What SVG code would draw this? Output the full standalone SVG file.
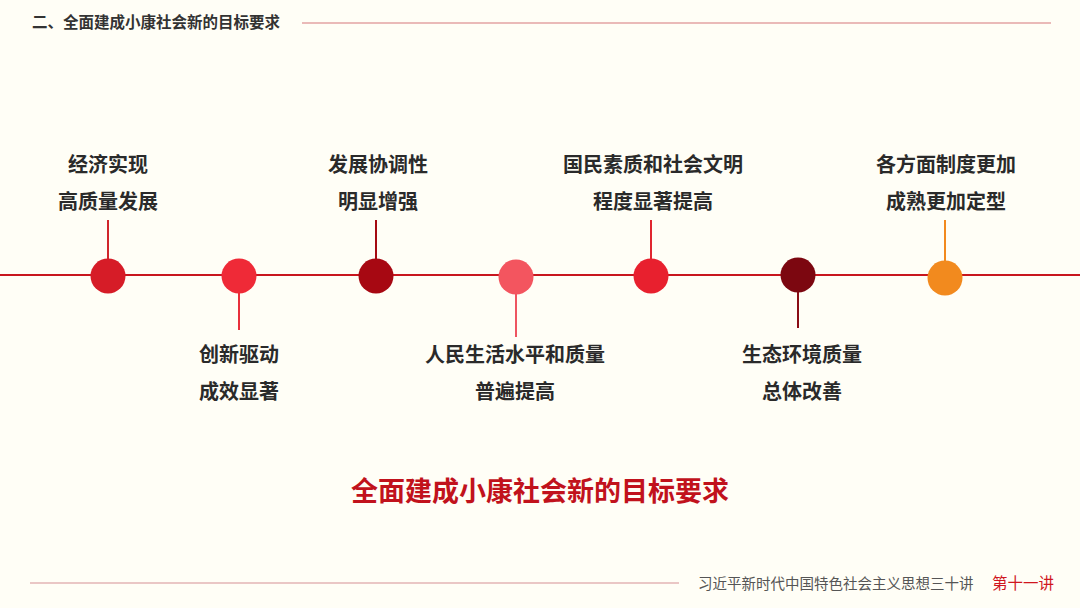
<svg xmlns="http://www.w3.org/2000/svg" width="1080" height="608" viewBox="0 0 1080 608">
<style>
.lbl{font-family:"Noto Sans CJK SC","Noto Sans",sans-serif;font-weight:700;font-size:20px;fill:#2a2a2a;text-anchor:middle}
.hdr{font-family:"Noto Sans CJK SC","Noto Sans",sans-serif;font-weight:700;font-size:15.5px;fill:#333333}
.ttl{font-family:"Noto Sans CJK SC","Noto Sans",sans-serif;font-weight:700;font-size:27px;fill:#c1121c;text-anchor:middle}
.ftr{font-family:"Noto Sans CJK SC","Noto Sans",sans-serif;font-weight:400;font-size:14.5px;fill:#555555}
.ftr2{font-family:"Noto Sans CJK SC","Noto Sans",sans-serif;font-weight:400;font-size:15.5px;fill:#d0161e}
.stem{stroke-width:2;fill:none}
</style>
<rect x="0" y="0" width="1080" height="608" fill="#fffef6"/>
<g id="header">
<text class="hdr" x="32" y="28">二、全面建成小康社会新的目标要求</text>
<line x1="302" y1="23" x2="1051" y2="23" stroke="#e3a3a3" stroke-width="1.5"/>
</g>
<g id="connectors">
<line x1="0" y1="275" x2="1080" y2="275" stroke="#c8161e" stroke-width="2.2"/>
<line class="stem" x1="108" y1="220" x2="108" y2="275" stroke="#d0262c"/>
<line class="stem" x1="239" y1="276" x2="239" y2="330" stroke="#e8303b"/>
<line class="stem" x1="376" y1="220" x2="376" y2="276" stroke="#a50a12"/>
<line class="stem" x1="516" y1="276" x2="516" y2="337" stroke="#ee5561"/>
<line class="stem" x1="651" y1="220" x2="651" y2="276" stroke="#e0262f"/>
<line class="stem" x1="798" y1="276" x2="798" y2="328" stroke="#8a0d15"/>
<line class="stem" x1="945" y1="220" x2="945" y2="278" stroke="#f28a1e"/>
</g>
<g id="node1">
<circle cx="108" cy="276" r="17.5" fill="#d61c27"/>
<text class="lbl" x="108" y="172">经济实现</text>
<text class="lbl" x="108" y="209">高质量发展</text>
</g>
<g id="node2">
<circle cx="239" cy="276" r="17.5" fill="#ef2a37"/>
<text class="lbl" x="239" y="362">创新驱动</text>
<text class="lbl" x="239" y="399">成效显著</text>
</g>
<g id="node3">
<circle cx="376" cy="276" r="17.5" fill="#a70812"/>
<text class="lbl" x="378" y="172">发展协调性</text>
<text class="lbl" x="378" y="209">明显增强</text>
</g>
<g id="node4">
<circle cx="516" cy="277" r="17.5" fill="#f3555f"/>
<text class="lbl" x="515" y="362">人民生活水平和质量</text>
<text class="lbl" x="515" y="399">普遍提高</text>
</g>
<g id="node5">
<circle cx="651" cy="276" r="17.5" fill="#e8202e"/>
<text class="lbl" x="653" y="172">国民素质和社会文明</text>
<text class="lbl" x="653" y="209">程度显著提高</text>
</g>
<g id="node6">
<circle cx="798" cy="275" r="17.5" fill="#7c0710"/>
<text class="lbl" x="802" y="362">生态环境质量</text>
<text class="lbl" x="802" y="399">总体改善</text>
</g>
<g id="node7">
<circle cx="945" cy="278" r="17.5" fill="#f28a1e"/>
<text class="lbl" x="946" y="172">各方面制度更加</text>
<text class="lbl" x="946" y="209">成熟更加定型</text>
</g>
<g id="title">
<text class="ttl" x="540" y="501">全面建成小康社会新的目标要求</text>
</g>
<g id="footer">
<line x1="30" y1="583" x2="679" y2="583" stroke="#e3b5b5" stroke-width="1.5"/>
<text class="ftr" x="698" y="589">习近平新时代中国特色社会主义思想三十讲</text>
<text class="ftr2" x="992" y="589">第十一讲</text>
</g>
</svg>
